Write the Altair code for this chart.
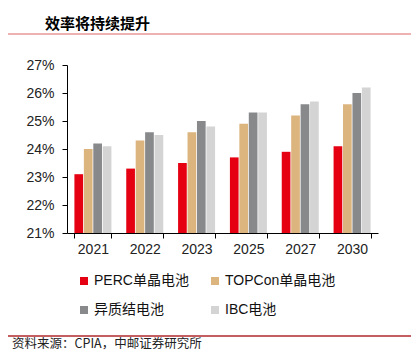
import altair as alt
import pandas as pd

years = ["2021", "2022", "2023", "2025", "2027", "2030"]
series = ["PERC单晶电池", "TOPCon单晶电池", "异质结电池", "IBC电池"]
colors = ["#E50012", "#DBB47E", "#87898B", "#D4D4D4"]
perc = [23.1, 23.3, 23.5, 23.7, 23.9, 24.1]
topcon = [24.0, 24.3, 24.6, 24.9, 25.2, 25.6]
hjt = [24.2, 24.6, 25.0, 25.3, 25.6, 26.0]
ibc = [24.1, 24.5, 24.8, 25.3, 25.7, 26.2]
y_ticks = [21, 22, 23, 24, 25, 26, 27]

title_text = "效率将持续提升"
source_text = "资料来源：CPIA，中邮证券研究所"

rows = []
for s, vals in zip(series, [perc, topcon, hjt, ibc]):
    for yr, v in zip(years, vals):
        rows.append({"year": yr, "series": s, "value": v})
df = pd.DataFrame(rows)

FONT = "Liberation Sans, Arial, Noto Sans CJK SC"

bars = alt.Chart(df).mark_bar(clip=True).encode(
    x=alt.X("year:N", sort=years, title=None,
            scale=alt.Scale(paddingInner=0.286, paddingOuter=0.143),
            axis=alt.Axis(labelAngle=0, tickBand="extent", labelFontSize=14,
                          labelFont=FONT, labelColor="#222222", labelPadding=4,
                          tickSize=5, tickColor="#000000", domainColor="#000000")),
    xOffset=alt.XOffset("series:N", sort=series,
                        scale=alt.Scale(domain=series, paddingInner=0.08)),
    y=alt.Y("value:Q", title=None,
            scale=alt.Scale(domain=[21, 27], zero=False, nice=False),
            axis=alt.Axis(values=y_ticks, labelExpr="datum.value + '%'",
                          labelFontSize=14, labelFont=FONT, labelColor="#222222",
                          labelPadding=8, tickSize=5, tickColor="#000000",
                          domainColor="#000000", grid=False)),
    y2=alt.datum(21),
    color=alt.Color("series:N", sort=series,
                    scale=alt.Scale(domain=series, range=colors),
                    legend=alt.Legend(orient="none", legendX=10, legendY=209,
                                      direction="horizontal",
                                      columns=2, title=None, symbolType="square",
                                      symbolSize=64, symbolStrokeWidth=0,
                                      labelFontSize=14, labelFont=FONT,
                                      labelColor="#111111", labelOffset=3,
                                      columnPadding=19, rowPadding=15)),
)

one = pd.DataFrame({"a": [0]})

title_mark = alt.Chart(pd.DataFrame({"t": [title_text]})).mark_text(
    align="left", baseline="middle", fontSize=15, fontWeight="bold",
    font="Noto Sans CJK SC", color="#000000"
).encode(text="t:N", x=alt.value(-22), y=alt.value(-41))

title_rule = alt.Chart(one).mark_rule(color="#E8999A", strokeWidth=1.5).encode(
    x=alt.value(-59), x2=alt.value(344), y=alt.value(-31))

foot_rule = alt.Chart(one).mark_rule(color="#B22A2A", strokeWidth=1.5).encode(
    x=alt.value(-59), x2=alt.value(344), y=alt.value(271))

foot_mark = alt.Chart(pd.DataFrame({"t": [source_text]})).mark_text(
    align="left", baseline="middle", fontSize=12.5, font="Noto Sans CJK SC",
    color="#222222"
).encode(text="t:N", x=alt.value(-55), y=alt.value(279))

chart = alt.layer(bars, title_mark, title_rule, foot_rule, foot_mark).properties(
    width=311, height=168,
    autosize=alt.AutoSizeParams(type="none"),
    padding={"left": 59, "top": 57, "right": 33, "bottom": 118},
).configure_view(stroke=None)

chart.save("out.html", embed_options={"renderer": "svg", "actions": False})
